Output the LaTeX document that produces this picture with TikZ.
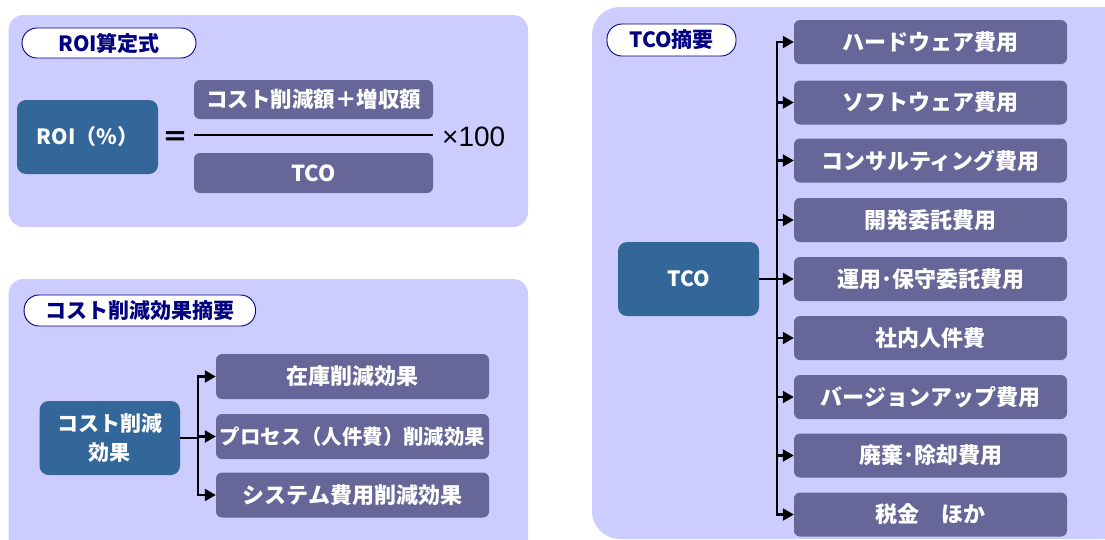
\documentclass[tikz,border=0pt]{standalone}
\usepackage{fontspec}
\setmainfont{Noto Sans CJK JP}
\newfontfamily\latinfont{Liberation Sans}
\usetikzlibrary{arrows.meta}
\definecolor{panelfill}{HTML}{CCCCFF}
\definecolor{mainbox}{HTML}{336699}
\definecolor{subbox}{HTML}{666699}
\definecolor{navy}{HTML}{000080}
\tikzset{
  panel/.style={fill=panelfill, draw=none},
  pill/.style={draw=navy, line width=0.9pt, fill=white, rounded corners=15pt, text=navy,
    font=\bfseries\fontsize{21}{22}\selectfont, inner sep=0pt},
  mainnode/.style={fill=mainbox, rounded corners=9pt, text=white,
    font=\bfseries\fontsize{21}{29}\selectfont, align=center, inner sep=0pt,
    minimum width=141pt, minimum height=74pt},
  subnode/.style={fill=subbox, rounded corners=6pt, text=white,
    font=\bfseries\fontsize{22}{24}\selectfont, inner sep=0pt,
    minimum height=44pt},
  conn/.style={line width=2.3pt, black},
  arr/.style={line width=2.3pt, black, -{Triangle[length=11pt,width=12pt]}},
}
\begin{document}
\begin{tikzpicture}[x=1pt,y=-1pt]
\useasboundingbox (0,0) rectangle (1105,539);
\clip (0,0) rectangle (1105,539);
% panels
\fill[panel, rounded corners=15pt] (8.6,15) rectangle (528,227);
\fill[panel, rounded corners=15pt] (8.6,279) rectangle (528,560);
\fill[panel, rounded corners=28pt] (592,7) rectangle (1130,539);

% ---- ROI panel
\node[pill, minimum width=174pt, minimum height=30pt] (t1) at (109,43) {ROI算定式};
\node[mainnode] (roi) at (87.5,137) {ROI（\%）};
\node[font=\bfseries\fontsize{26}{26}\selectfont, inner sep=0pt] (eq) at (175,139) {＝};
\node[subnode, minimum width=239pt, minimum height=39pt, font=\bfseries\fontsize{21.5}{24}\selectfont] (num) at (313.5,99.5) {コスト削減額＋増収額};
\node[subnode, minimum width=239pt, minimum height=40pt] (den) at (313.5,173) {TCO};
\draw[line width=1.2pt] (num.west |- 0,135) -- (num.east |- 0,135);
\node[anchor=west, font=\latinfont\fontsize{28}{28}\selectfont, inner sep=0pt] (x100) at (442,137) {×100};

% ---- Cost reduction panel
\node[pill, minimum width=231.5pt, minimum height=31pt] (t2) at (139.8,310.5) {コスト削減効果摘要};
\node[mainnode, minimum width=140.4pt] (cr) at (109.8,438) {コスト削減\\効果};
\node[subnode, minimum width=273pt, minimum height=45pt] (c1) at (352.5,376.5) {在庫削減効果};
\node[subnode, minimum width=273pt, minimum height=45pt, font=\bfseries\fontsize{20.4}{24}\selectfont] (c2) at (352.5,436.5) {プロセス（人件費）削減効果};
\node[subnode, minimum width=273pt, minimum height=45pt] (c3) at (352.5,495) {システム費用削減効果};
\coordinate (ctrunk) at (198,438);
\draw[conn] (cr.east) -- (ctrunk);
\foreach \b in {c1,c2,c3} \draw[arr] (ctrunk) |- (\b.west);

% ---- TCO panel
\node[pill, minimum width=129pt, minimum height=32pt] (t3) at (671.5,40) {TCO摘要};
\node[mainnode] (tco) at (688.5,279) {TCO};
\node[subnode, minimum width=273pt] (r1) at (930.5,42) {ハードウェア費用};
\node[subnode, minimum width=273pt] (r2) at (930.5,102.5) {ソフトウェア費用};
\node[subnode, minimum width=273pt] (r3) at (930.5,160.5) {コンサルティング費用};
\node[subnode, minimum width=273pt] (r4) at (930.5,220) {開発委託費用};
\node[subnode, minimum width=273pt] (r5) at (930.5,279) {運用･保守委託費用};
\node[subnode, minimum width=273pt] (r6) at (930.5,338) {社内人件費};
\node[subnode, minimum width=273pt] (r7) at (930.5,397) {バージョンアップ費用};
\node[subnode, minimum width=273pt] (r8) at (930.5,455.5) {廃棄･除却費用};
\node[subnode, minimum width=273pt] (r9) at (930.5,514.5) {税金　ほか};
\coordinate (ttrunk) at (777,279);
\draw[conn] (tco.east) -- (ttrunk);
\foreach \b in {r1,r2,r3,r4,r5,r6,r7,r8,r9} \draw[arr] (ttrunk) |- (\b.west);
\end{tikzpicture}
\end{document}
